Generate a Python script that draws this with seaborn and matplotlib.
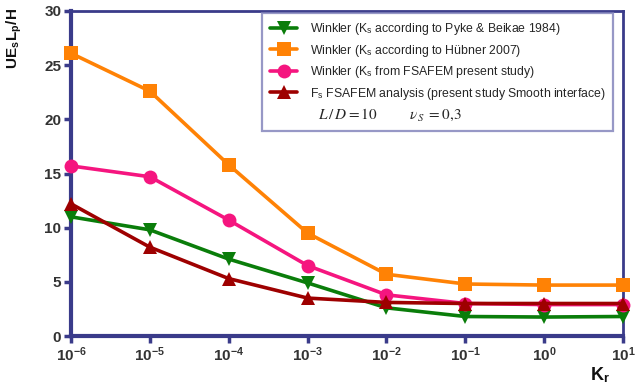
import numpy as np
import pandas as pd
import seaborn as sns
import matplotlib
matplotlib.use("Agg")
import matplotlib.pyplot as plt
from matplotlib.lines import Line2D

# Relative stiffness values K_r
kr = [1e-6, 1e-5, 1e-4, 1e-3, 1e-2, 1e-1, 1e0, 1e1]
kr_labels = ["-6", "-5", "-4", "-3", "-2", "-1", "0", "1"]

# Normalised pile-head response UE_s L_p / H
pyke = [11.0, 9.8, 7.1, 4.9, 2.6, 1.8, 1.75, 1.8]
hubner = [26.1, 22.6, 15.8, 9.5, 5.7, 4.8, 4.7, 4.7]
fsafem_winkler = [15.7, 14.7, 10.7, 6.5, 3.8, 3.0, 2.9, 2.9]
fsafem = [12.2, 8.2, 5.3, 3.5, 3.1, 3.0, 3.0, 3.0]

names = [
    "Winkler (K$_\\mathregular{s}$ according to Pyke & Beikae 1984)",
    "Winkler (K$_\\mathregular{s}$ according to Hübner 2007)",
    "Winkler (K$_\\mathregular{s}$ from FSAFEM present study)",
    "F$_\\mathregular{s}$ FSAFEM analysis (present study Smooth interface)",
]
series = [pyke, hubner, fsafem_winkler, fsafem]
colors = ["#0a7d0a", "#ff8205", "#f5157f", "#9e0000"]
markers = ["v", "s", "o", "^"]

df = pd.DataFrame({
    "Kr": np.tile(kr, len(series)),
    "value": np.concatenate(series),
    "series": np.repeat(names, len(kr)),
})

sns.set_theme(style="white")
plt.rcParams["font.family"] = ["Liberation Sans", "DejaVu Sans"]
plt.rcParams["mathtext.fontset"] = "stix"

navy = "#3a3b8a"

fig = plt.figure(figsize=(6.36, 3.88), dpi=100)
ax = fig.add_axes([71 / 636, 1 - 336 / 388, 552 / 636, 325 / 388])

sns.lineplot(
    data=df, x="Kr", y="value", hue="series", style="series",
    hue_order=names, style_order=names,
    palette=dict(zip(names, colors)),
    markers=dict(zip(names, markers)), dashes=False,
    linewidth=2.6, markersize=10, markeredgewidth=0,
    ax=ax, legend=False,
)
for line in ax.lines:
    line.set_clip_on(False)
    line.set_zorder(3)

ax.set_xscale("log")
ax.set_xlim(1e-6, 1e1)
ax.set_ylim(0, 30)
ax.set_xticks(kr)
ax.set_xticklabels([r"10$^\mathregular{%s}$" % e for e in kr_labels])
ax.set_yticks([0, 5, 10, 15, 20, 25, 30])
ax.minorticks_off()
for lab in ax.get_yticklabels() + ax.get_xticklabels():
    lab.set_fontweight("bold")
ax.tick_params(axis="both", which="major", direction="out", length=5, width=2.5,
               color=navy, labelsize=11, labelcolor="#333333", pad=2, left=True, bottom=True)

for side in ["left", "bottom"]:
    ax.spines[side].set_color(navy)
    ax.spines[side].set_linewidth(3)
for side in ["top", "right"]:
    ax.spines[side].set_color(navy)
    ax.spines[side].set_linewidth(2)
for sp in ax.spines.values():
    sp.set_zorder(1)

ax.set_xlabel("")
ax.set_ylabel("")
fig.text(15 / 636, 1 - 8 / 388, "UE$_\\mathregular{s}$L$_\\mathregular{p}$/H", rotation=90,
         ha="center", va="top", fontsize=11, fontweight="bold", color="#111111")
fig.text(600 / 636, 1 - 375 / 388, "K$_\\mathregular{r}$", ha="center", va="center",
         fontsize=13, fontweight="bold", color="#111111")

handles = [Line2D([], [], color=c, marker=m, markersize=10, markeredgewidth=0, linewidth=2.6)
           for c, m in zip(colors, markers)]
handles.append(Line2D([], [], linestyle="none"))
labels = names + [r"  $L\,/\,D = 10$        $\nu_S\ = 0{,}3$"]
leg = ax.legend(handles, labels, loc="upper right", bbox_to_anchor=(0.982, 0.993),
                borderaxespad=0, fontsize=8.8, frameon=True, fancybox=False,
                handlelength=2.2, labelspacing=0.45, borderpad=0.65, handletextpad=1.0)
leg.get_frame().set_edgecolor("#7d7fb8")
leg.get_frame().set_linewidth(1.6)
leg.texts[-1].set_fontsize(11)

fig.savefig("out.png", dpi=100)
